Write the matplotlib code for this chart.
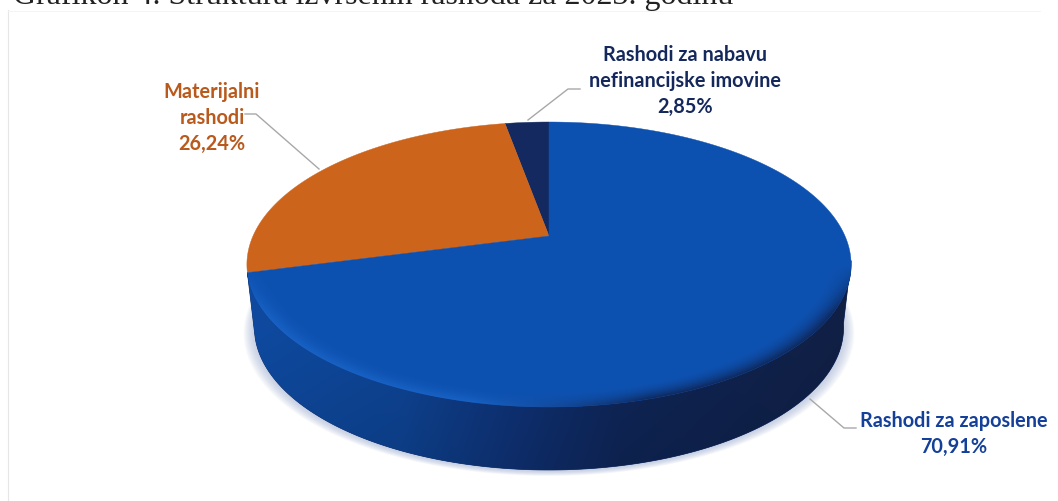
import numpy as np
import matplotlib
matplotlib.use("Agg")
import matplotlib.pyplot as plt
from matplotlib.patches import Polygon
from matplotlib.colors import to_rgb

title = "Grafikon 4. Struktura izvršenih rashoda za 2023. godinu"
categories = ["Rashodi za nabavu\nnefinancijske imovine", "Materijalni\nrashodi", "Rashodi za zaposlene"]
shares = [2.85, 26.24, 70.91]
share_labels = ["2,85%", "26,24%", "70,91%"]
colors = ["#14295f", "#cd641c", "#0d51b0"]
text_colors = ["#14285c", "#b9591c", "#14409a"]

# tilted disc, perspective projection of the unit circle
W, H = 1058, 501
cx, cy = 549, 236
rx, ry, p = 296, 136.8, 0.2
depth = 63
shrink = 0.975


def project(t):
    u, v = np.sin(t), np.cos(t)
    w = 1 + p * v
    return cx + rx * u / w, cy - ry * v / w


def lower(x, y):
    return cx + (x - cx) * shrink, y + depth


fig = plt.figure(figsize=(W / 100, H / 100), dpi=100)
ax = fig.add_axes([0, 0, 1, 1])
ax.axis("off")

yy, xx = np.mgrid[0:H, 0:W] + 0.5

# soft shadow under the disc
tt = np.linspace(0, 2 * np.pi, 400)
sx, sy = lower(*project(tt))
for g in np.linspace(11, 1, 10):
    ax.fill(cx + (sx - cx) * (1 + g / 300), sy + 1 + g * 0.45, color="#9db0d4", alpha=0.07, lw=0, zorder=0.5)

# side wall, colour runs from left to right
ts = np.radians(np.linspace(100, 255.3, 300))
tx, ty = project(ts)
bx, by = lower(tx, ty)
wall = Polygon(np.column_stack([np.r_[tx, bx[::-1]], np.r_[ty, by[::-1]]]), closed=True,
               facecolor="#10306e", edgecolor="#0f2a60", lw=0.5, zorder=1)
ax.add_patch(wall)
stops_x = [250, 400, 520, 620, 760, 850]
stops_c = ["#0e4aa0", "#0e4494", "#0f3174", "#0f2658", "#10224c", "#111f44"]
wall_img = np.ones((H, W, 3))
for k in range(3):
    wall_img[..., k] = np.interp(xx, stops_x, [to_rgb(c)[k] for c in stops_c])
# darken the wall a bit towards its lower edge
wall_img *= (1 - 0.12 * np.clip((yy - 330) / 140, 0, 1))[..., None]
im = ax.imshow(wall_img, extent=(0, W, H, 0), aspect="auto", interpolation="bilinear", zorder=1.5)
im.set_clip_path(wall)

# top surface from the shares, going counter-clockwise from 12 o'clock
edges = np.r_[0, np.cumsum(shares)] / sum(shares) * 2 * np.pi
patches = []
for i, c in enumerate(colors):
    t = np.linspace(-edges[i], -edges[i + 1], 300)
    x, y = project(t)
    patch = Polygon(np.column_stack([np.r_[cx, x], np.r_[cy, y]]), closed=True, facecolor=c, edgecolor=c, lw=0.3, zorder=2)
    ax.add_patch(patch)
    patches.append(patch)

# rounded edge of the big slice: light on the left, melts into the dark wall on the right
Y = (cy - yy) / ry
w = 1 / (1 - p * Y)
rho = np.hypot((xx - cx) / rx * w, Y * w)
band = np.clip((rho - 0.92) / 0.08, 0, 1) ** 2 * np.clip((yy - 265) / 50, 0, 1)
right = np.clip((xx - 470) / 180, 0, 1)
edge = np.zeros((H, W, 4))
for k in range(3):
    edge[..., k] = (1 - right) * to_rgb("#1c68cc")[k] + right * to_rgb("#0f2658")[k]
edge[..., 3] = band * (0.75 * (1 - right) + 0.95 * right)
im2 = ax.imshow(edge, extent=(0, W, H, 0), aspect="auto", interpolation="bilinear", zorder=3)
im2.set_clip_path(patches[2])

ax.set_xlim(0, W)
ax.set_ylim(H, 0)

# faint frame of the chart area
ax.plot([8, 8], [10, H], color="#e6e6e6", lw=0.8, zorder=0.2)
ax.plot([8, 1040], [11, 11], color="#f3f3f3", lw=0.6, zorder=0.2)

# leader lines
ax.plot([528, 568, 580], [120, 89, 89], color="#a8a8a8", lw=1, zorder=4)
ax.plot([245, 256, 319], [114, 114, 169], color="#a8a8a8", lw=1, zorder=4)
ax.plot([810, 844, 856], [399, 428, 428], color="#a8a8a8", lw=1, zorder=0.8)

label_font = dict(family="Lato", weight="bold", fontsize=14.3, ha="center", va="center", linespacing=1.36, zorder=5)
ax.text(685, 81, categories[0] + "\n" + share_labels[0], color=text_colors[0], **label_font)
ax.text(212, 118, categories[1] + "\n" + share_labels[1], color=text_colors[1], **label_font)
ax.text(954, 434, categories[2] + "\n" + share_labels[2], color=text_colors[2], **label_font)

ax.text(13, 4, title, family="Liberation Serif", fontsize=23, color="#222222", ha="left", va="baseline", clip_on=False)

fig.savefig("out.png", dpi=100)
